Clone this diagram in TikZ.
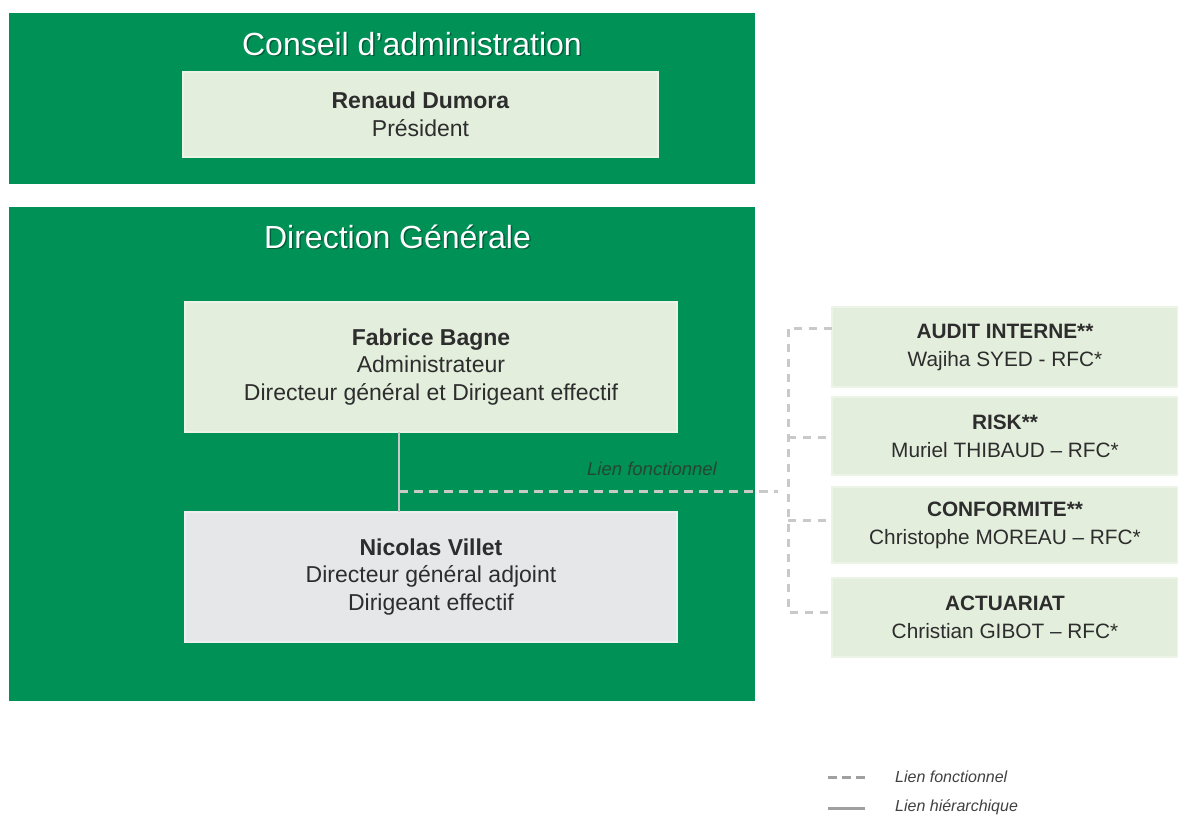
\documentclass[tikz,border=0pt]{standalone}
\usepackage{fontspec}
\setmainfont{Liberation Sans}
\usetikzlibrary{calc}
\definecolor{dgreen}{RGB}{0,145,87}
\definecolor{lgreen}{RGB}{227,238,220}
\definecolor{lgreenedge}{RGB}{236,243,231}
\definecolor{lgray}{RGB}{230,231,232}
\definecolor{lgrayedge}{RGB}{238,239,240}
\definecolor{txt}{RGB}{45,45,45}
\definecolor{dashgray}{RGB}{200,202,200}
\definecolor{leggray}{RGB}{160,160,160}
\definecolor{lblgreen}{RGB}{38,70,50}
\begin{document}
\begin{tikzpicture}[x=1pt,y=-1pt,
  panel/.style={fill=dgreen, draw=none, inner sep=0pt, outer sep=0pt},
  title/.style={text=white, font=\fontsize{32}{37}\selectfont, anchor=base, inner sep=0pt},
  shadowtitle/.style={text=black, opacity=0.35, font=\fontsize{32}{37}\selectfont, anchor=base, inner sep=0pt},
  greenbox/.style={fill=lgreen, draw=lgreenedge, line width=1.5pt, inner sep=0pt, outer sep=0pt, align=center, text=txt, font=\fontsize{23}{27.5}\selectfont},
  graybox/.style={fill=lgray, draw=lgrayedge, line width=1.5pt, inner sep=0pt, outer sep=0pt, align=center, text=txt, font=\fontsize{23}{27.5}\selectfont},
  sidebox/.style={fill=lgreen, draw=lgreenedge, line width=1.5pt, inner sep=0pt, outer sep=0pt, align=center, text=txt, minimum width=346pt, font=\fontsize{20.8}{28}\selectfont},
  funcline/.style={draw=dashgray, line width=3pt, dash pattern=on 9pt off 6pt},
  bracketline/.style={draw=dashgray, line width=3pt, dash pattern=on 8pt off 7pt},
  hierline/.style={draw=dashgray, line width=2.2pt},
  legdash/.style={draw=leggray, line width=3pt, dash pattern=on 9pt off 5pt},
  legsolid/.style={draw=leggray, line width=3pt},
  legtext/.style={anchor=west, inner sep=0pt, text=black!75, font=\fontsize{16}{19}\selectfont\itshape}
]
\useasboundingbox (0,0) rectangle (1178,815);

% panels
\node[panel, minimum width=746pt, minimum height=171pt] (conseil) at (382,98.5) {};
\node[panel, minimum width=746pt, minimum height=494pt] (direction) at (382,454) {};

% titles
\node[shadowtitle] (ctitleshadow) at (413.5,56.5) {Conseil d’administration};
\node[title] (ctitle) at (412,55) {Conseil d’administration};
\node[shadowtitle] (dtitleshadow) at (399,249.5) {Direction Générale};
\node[title] (dtitle) at (397.5,248) {Direction Générale};

% boxes
\node[greenbox, minimum width=475pt, minimum height=85pt] (renaud) at (420.5,114.5)
  {\textbf{Renaud Dumora}\\Président};
\node[greenbox, minimum width=492pt, minimum height=130pt] (fabrice) at (431,367)
  {\textbf{Fabrice Bagne}\\Administrateur\\Directeur général et Dirigeant effectif};
\node[graybox, minimum width=492pt, minimum height=130pt] (nicolas) at (431,577)
  {\textbf{Nicolas Villet}\\Directeur général adjoint\\Dirigeant effectif};

\node[sidebox, minimum height=80pt] (audit) at (1005,347) {\textbf{AUDIT INTERNE**}\\Wajiha SYED - RFC*};
\node[sidebox, minimum height=78pt] (risk) at (1005,436) {\textbf{RISK**}\\Muriel THIBAUD – RFC*};
\node[sidebox, minimum height=76pt] (conf) at (1005,525) {\textbf{CONFORMITE**}\\Christophe MOREAU – RFC*};
\node[sidebox, minimum height=79pt] (actu) at (1005,617.5) {\textbf{ACTUARIAT}\\Christian GIBOT – RFC*};

% hierarchical link
\coordinate (vx) at (399,0);
\draw[hierline] (fabrice.south -| vx) -- (nicolas.north -| vx);

% functional link
\coordinate (junction) at (399,491);
\coordinate (funcend) at (778,491);
\draw[funcline] (junction) -- (funcend);
\node[inner sep=0pt, text=lblgreen, font=\fontsize{18.5}{22}\selectfont\itshape] (lienlabel) at (652,469) {Lien fonctionnel};

% bracket
\coordinate (b1) at (788,328);
\coordinate (b2) at (788,437);
\coordinate (b3) at (788,520);
\coordinate (b4) at (788,612);
\draw[bracketline] (b1 -| audit.west) -- (b1) -- (b4) -- (b4 -| actu.west);
\draw[bracketline] (b2) -- (b2 -| risk.west);
\draw[bracketline] (b3) -- (b3 -| conf.west);

% legend
\coordinate (l1a) at (828,777);
\coordinate (l1b) at (865,777);
\coordinate (l2a) at (828,808);
\coordinate (l2b) at (865,808);
\draw[legdash] (l1a) -- (l1b);
\draw[legsolid] (l2a) -- (l2b);
\node[legtext] (leg1) at (895,777) {Lien fonctionnel};
\node[legtext] (leg2) at (895,807) {Lien hiérarchique};
\end{tikzpicture}
\end{document}
